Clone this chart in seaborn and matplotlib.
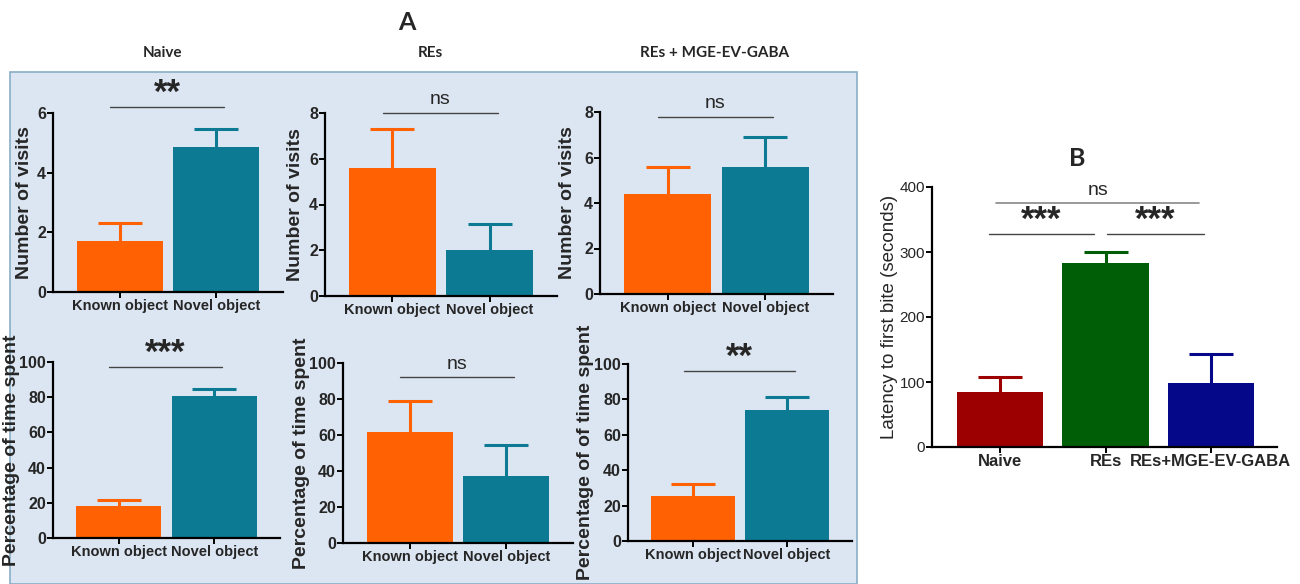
import matplotlib
matplotlib.use("Agg")
import matplotlib.pyplot as plt
import seaborn as sns
import numpy as np
from matplotlib.patches import Rectangle

# ---- data ----
objects = ["Known object", "Novel object"]

visits_naive = [1.7, 4.85]
visits_naive_err = [0.6, 0.6]
visits_res = [5.6, 2.0]
visits_res_err = [1.72, 1.14]
visits_gaba = [4.38, 5.6]
visits_gaba_err = [1.19, 1.29]

time_naive = [18.2, 80.7]
time_naive_err = [3.4, 4.0]
time_res = [61.8, 37.4]
time_res_err = [17.3, 16.9]
time_gaba = [25.4, 74.0]
time_gaba_err = [6.8, 7.2]

groups_b = ["Naive", "REs", "REs+MGE-EV-GABA"]
latency = [84, 283.5, 98]
latency_err = [23, 17, 44.6]

sig_visits = ["**", "ns", "ns"]
sig_time = ["***", "ns", "**"]

W, H = 1300, 584
ORANGE = "#ff6103"
TEAL = "#0b7a92"
B_COLORS = ["#9c0000", "#005f06", "#06088a"]

sns.set_style("ticks")
plt.rcParams["font.family"] = ["Liberation Sans", "DejaVu Sans"]

fig = plt.figure(figsize=(W / 100, H / 100), dpi=100)
fig.patch.set_facecolor("white")

# light blue panel behind A
bg = Rectangle((10 / W, 0), (857 - 10) / W, 1 - 72 / H,
               transform=fig.transFigure, facecolor="#dce6f2",
               edgecolor="#8aaec6", linewidth=1.2, zorder=-10)
fig.add_artist(bg)


def px_axes(left, top, right, bottom):
    ax = fig.add_axes([left / W, 1 - bottom / H, (right - left) / W, (bottom - top) / H])
    ax.set_zorder(2)
    return ax


def style_axes(ax, ymax, step, bold_ticks=True, tsize=11.5):
    ax.set_facecolor("none")
    ax.patch.set_alpha(0)
    ax.set_ylim(0, ymax)
    ax.set_yticks(np.arange(0, ymax + step / 2, step))
    sns.despine(ax=ax)
    for s in ["left", "bottom"]:
        ax.spines[s].set_linewidth(1.6)
        ax.spines[s].set_color("black")
    ax.tick_params(axis="both", width=1.4, length=4, color="black", pad=1)
    w = "bold" if bold_ticks else "normal"
    for lab in ax.get_yticklabels():
        lab.set_fontweight(w)
        lab.set_fontsize(tsize)
    ax.set_xlabel("")


def place_ylabel(ax, rect, x_px):
    left, right = rect[0], rect[2]
    ax.yaxis.label.set_va("center")
    ax.yaxis.set_label_coords((x_px - left) / (right - left), 0.5)


def upper_errors(ax, vals, errs, colors):
    # only the upper half of the SEM bar, as in the original figure
    for i, c in enumerate(colors):
        ax.errorbar(i, vals[i] + errs[i] / 2, yerr=errs[i] / 2, fmt="none",
                    ecolor=c, elinewidth=2.2, capsize=0, zorder=0.5)
        ax.plot([i], [vals[i] + errs[i]], marker="_", ms=31, mew=2.2, color=c,
                zorder=0.5)


def sig_mark(ax, x0, x1, y, label, color="#444444", lw=1):
    ax.plot([x0, x1], [y, y], color=color, lw=lw, clip_on=False)
    star = "*" in label
    ax.annotate(label, ((x0 + x1) / 2, y), xytext=(0, 10 if star else 9.5),
                textcoords="offset points", ha="center", va="center",
                fontsize=25 if star else 14, fontweight="bold" if star else "normal",
                annotation_clip=False)


def object_panel(rect, vals, errs, ymax, step, ylabel, label_x, sig, sig_y):
    ax = px_axes(*rect)
    sns.barplot(x=objects, y=vals, hue=objects, palette=[ORANGE, TEAL],
                legend=False, width=0.89, saturation=1, linewidth=0,
                errorbar=None, ax=ax)
    upper_errors(ax, vals, errs, [ORANGE, TEAL])
    ax.set_xlim(-0.69, 1.69)
    style_axes(ax, ymax, step)
    ax.set_xticks([0, 1])
    ax.set_xticklabels(objects, fontsize=10.5, fontweight="bold")
    ax.set_ylabel(ylabel, fontsize=14, fontweight="bold")
    place_ylabel(ax, rect, label_x)
    sig_mark(ax, -0.1, 1.08, sig_y, sig)
    return ax


# ---- panel A ----
object_panel((53, 113, 283, 292), visits_naive, visits_naive_err, 6, 2,
             "Number of visits", 25, sig_visits[0], 6.2)
object_panel((325, 113, 557, 296), visits_res, visits_res_err, 8, 2,
             "Number of visits", 296, sig_visits[1], 8.0)
object_panel((600, 112, 833, 294), visits_gaba, visits_gaba_err, 8, 2,
             "Number of visits", 567, sig_visits[2], 7.8)

object_panel((53, 362, 280, 538), time_naive, time_naive_err, 100, 20,
             "Percentage of time spent", 12, sig_time[0], 97)
object_panel((343, 363, 573, 543), time_res, time_res_err, 100, 20,
             "Percentage of time spent", 302, sig_time[1], 92)
object_panel((628, 364, 852, 541), time_gaba, time_gaba_err, 100, 20,
             "Percentage of of time spent", 586, sig_time[2], 96)

title_font = ["Lato", "DejaVu Sans"]
fig.text(407 / W, 1 - 22 / H, "A", ha="center", va="center", fontsize=18,
         fontweight="bold", family=title_font)
for x, t in [(163, "Naive"), (430, "REs"), (715, "REs + MGE-EV-GABA")]:
    fig.text(x / W, 1 - 53 / H, t, ha="center", va="center", fontsize=11,
             fontweight="bold", family=title_font)

# ---- panel B ----
rect_b = (932, 187, 1277, 447)
axb = px_axes(*rect_b)
sns.barplot(x=groups_b, y=latency, hue=groups_b, palette=B_COLORS, legend=False,
            width=0.82, saturation=1, linewidth=0, errorbar=None, ax=axb)
upper_errors(axb, latency, latency_err, B_COLORS)
axb.set_xlim(-0.65, 2.63)
style_axes(axb, 400, 100, bold_ticks=False, tsize=11)
axb.set_xticks([0, 1, 2])
axb.set_xticklabels(groups_b, fontsize=12, fontweight="bold")
axb.set_ylabel("Latency to first bite (seconds)", fontsize=13.5)
place_ylabel(axb, rect_b, 889)

sig_mark(axb, -0.04, 1.89, 375, "ns", color="#888888", lw=1.2)
sig_mark(axb, -0.11, 0.89, 328, "***")
sig_mark(axb, 1.01, 1.94, 328, "***")
fig.text(1077 / W, 1 - 158 / H, "B", ha="center", va="center", fontsize=18,
         fontweight="bold", family=title_font)

fig.savefig("out.png", dpi=100)
